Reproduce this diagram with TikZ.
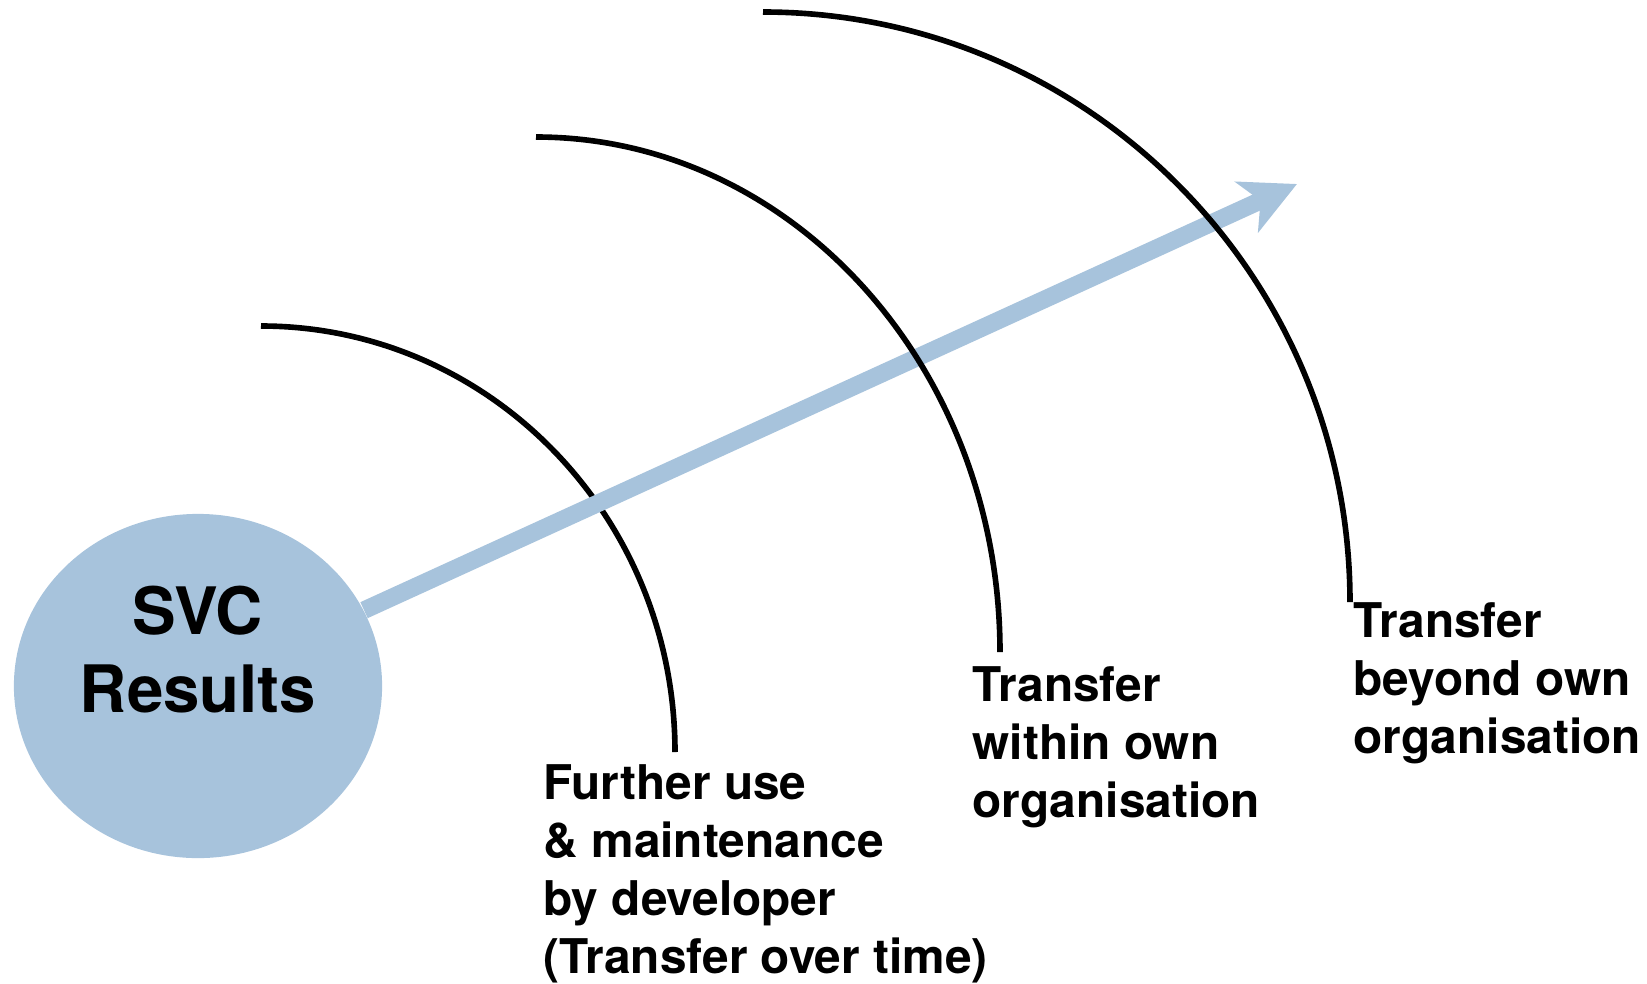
\documentclass[tikz,border=0pt]{standalone}
\usepackage{fontspec}
\setmainfont{TeX Gyre Heros}
\usepackage{tikz}
\usetikzlibrary{arrows.meta}
\usetikzlibrary{shapes.geometric}
\definecolor{svcblue}{RGB}{167,195,220}
\tikzset{stage/.style={anchor=base west, align=left, inner sep=0pt, font=\bfseries\fontsize{13.6}{16.4}\selectfont}}
\tikzset{ring/.style={draw, line width=1.6pt}}

\begin{document}
\begin{tikzpicture}[x=0.01cm, y=-0.01cm]       % transfer circles
    \useasboundingbox (0, 0) rectangle (1647, 984);

    \node[ellipse, fill=svcblue, minimum width=3.68cm, minimum height=3.44cm, inner sep=0pt] at (198, 686) (svc) {};
    \node[align=center, inner sep=0pt, anchor=base, font=\bfseries\fontsize{18.6}{21.9}\selectfont] at (198, 712) (svctext) {SVC\\Results};

    \draw[ring] (261, 326) arc[start angle=-90, end angle=0, x radius=414, y radius=426];
    \coordinate (tip) at (1297, 184);
    \draw[svcblue, line width=5pt, -{Stealth[length=5.5mm, width=5.5mm, inset=1.5mm]}] (svc) -- (tip);
    \draw[ring] (536, 137) arc[start angle=-90, end angle=0, x radius=464, y radius=515];
    \draw[ring] (763, 12) arc[start angle=-90, end angle=0, x radius=587, y radius=590];

    % base anchor sits on the last line
    \node[stage] at (543, 973) (inner) {Further use\\\& maintenance\\by developer\\(Transfer over time)};
    \node[stage] at (972, 817) (within) {Transfer\\within own\\organisation};
    \node[stage] at (1353, 753) (beyond) {Transfer\\beyond own\\organisation};
  \end{tikzpicture}
\end{document}
